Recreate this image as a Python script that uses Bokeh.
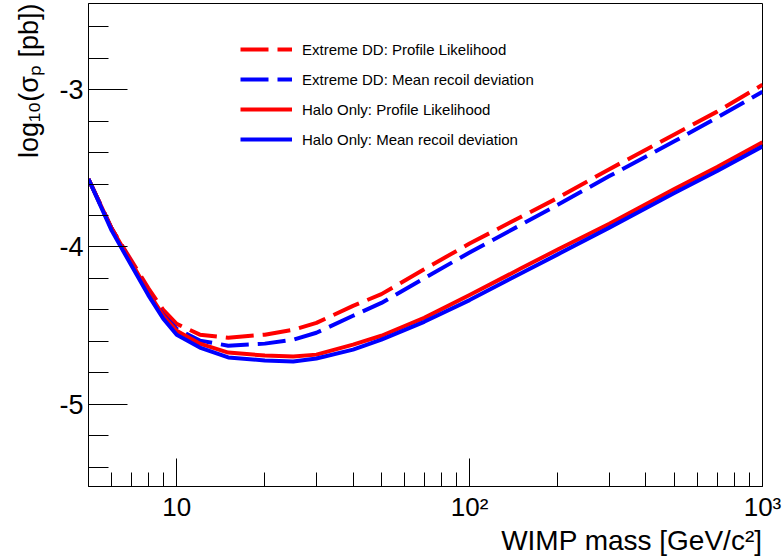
from bokeh.plotting import figure
from bokeh.models import (FixedTicker, SingleIntervalTicker, Legend,
                          LegendItem, Title)
from bokeh.embed import file_html
from bokeh.resources import INLINE

# ---- data ----
mass = [5, 6, 7, 8, 9, 10, 12, 15, 20, 25, 30, 40, 50, 70, 100, 150, 200,
        300, 500, 700, 1000]
extreme_pl = [-3.568, -3.883, -4.085, -4.262, -4.401, -4.489, -4.558, -4.577,
              -4.558, -4.527, -4.483, -4.375, -4.300, -4.142, -3.978, -3.808,
              -3.688, -3.505, -3.284, -3.139, -2.968]
extreme_mrd = [-3.568, -3.883, -4.098, -4.287, -4.432, -4.521, -4.596, -4.628,
               -4.615, -4.590, -4.546, -4.438, -4.356, -4.199, -4.035, -3.858,
               -3.732, -3.549, -3.328, -3.177, -3.013]
halo_pl = [-3.568, -3.883, -4.098, -4.287, -4.438, -4.533, -4.615, -4.672,
           -4.691, -4.697, -4.685, -4.621, -4.565, -4.451, -4.306, -4.136,
           -4.016, -3.852, -3.631, -3.492, -3.334]
halo_mrd = [-3.568, -3.896, -4.117, -4.306, -4.457, -4.558, -4.640, -4.703,
            -4.722, -4.729, -4.710, -4.653, -4.590, -4.476, -4.338, -4.167,
            -4.047, -3.877, -3.656, -3.517, -3.360]

series_names = ["Extreme DD: Profile Likelihood",
                "Extreme DD: Mean recoil deviation",
                "Halo Only: Profile Likelihood",
                "Halo Only: Mean recoil deviation"]

x_major_ticks = [10, 100, 1000]
x_major_labels = ["10", "10\u00b2", "10\u00b3"]
x_minor_ticks = [6, 7, 8, 9, 20, 30, 40, 50, 60, 70, 80, 90,
                 200, 300, 400, 500, 600, 700, 800, 900]
y_major_ticks = [-5, -4, -3]
y_major_labels = ["-5", "-4", "-3"]

x_title = "WIMP mass [GeV/c\u00b2]"
y_title = "log\u2081\u2080(\u03c3\u209a [pb])"

FONT = "Liberation Sans"

p = figure(width=784, height=557, x_axis_type="log",
           x_range=(5, 1000), y_range=(-5.524, -2.451),
           output_backend="svg", toolbar_location=None,
           min_border_left=88, min_border_right=22,
           min_border_top=3, min_border_bottom=67)
p.title.visible = False
p.grid.visible = False
p.background_fill_color = "white"
p.border_fill_color = "white"
p.outline_line_color = "black"
p.outline_line_width = 1

# x axis
xa = p.xaxis[0]
xa.ticker = FixedTicker(ticks=x_major_ticks, minor_ticks=x_minor_ticks)
xa.major_label_overrides = dict(zip(x_major_ticks, x_major_labels))
xa.major_tick_in = 28
xa.major_tick_out = 0
xa.minor_tick_in = 14
xa.minor_tick_out = 0
xa.major_label_standoff = 5
xa.major_label_text_font = FONT
xa.major_label_text_font_size = "26px"
xa.major_label_text_color = "black"
xa.axis_line_color = "black"
xa.major_tick_line_color = "black"
xa.minor_tick_line_color = "black"

# y axis
ya = p.yaxis[0]
ya.ticker = SingleIntervalTicker(interval=1, num_minor_ticks=5)
ya.major_label_overrides = dict(zip(y_major_ticks, y_major_labels))
ya.major_tick_in = 39
ya.major_tick_out = 0
ya.minor_tick_in = 20
ya.minor_tick_out = 0
ya.major_label_standoff = 5
ya.major_label_text_font = FONT
ya.major_label_text_font_size = "27px"
ya.major_label_text_color = "black"
ya.axis_line_color = "black"
ya.major_tick_line_color = "black"
ya.minor_tick_line_color = "black"

# curves
styles = [("#ff0000", "28 9"), ("#0000ff", "28 9"),
          ("#ff0000", "solid"), ("#0000ff", "solid")]
data = [extreme_pl, extreme_mrd, halo_pl, halo_mrd]
items = []
for name, ys, (col, dash) in zip(series_names, data, styles):
    r = p.line(mass, ys, line_color=col, line_width=4, line_dash=dash,
               line_join="round")
    items.append(LegendItem(label=name, renderers=[r]))

legend = Legend(items=items, location=(147, 332), padding=5,
                glyph_width=52, glyph_height=20, label_height=20,
                spacing=10, label_standoff=10,
                label_text_font=FONT, label_text_font_size="15px",
                label_text_color="black",
                background_fill_alpha=0, border_line_alpha=0)
p.add_layout(legend)

# axis titles
p.add_layout(Title(text=x_title, align="right", vertical_align="top",
                   text_font=FONT, text_font_size="28px",
                   text_font_style="normal", text_color="black",
                   standoff=0, offset=0), "below")
p.add_layout(Title(text=y_title, align="right", vertical_align="top",
                   text_font=FONT, text_font_size="27px",
                   text_font_style="normal", text_color="black",
                   standoff=22, offset=0), "left")

open("out.html", "w").write(file_html(p, INLINE))
